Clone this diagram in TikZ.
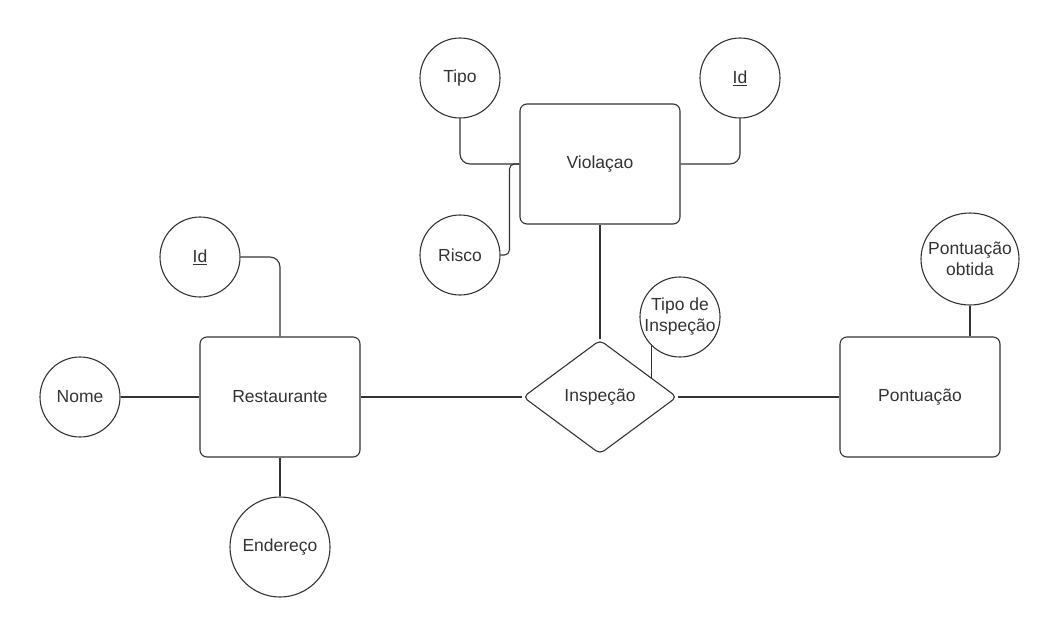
\documentclass[tikz,border=0pt]{standalone}
\usepackage{fontspec}
\setmainfont{Liberation Sans}
\usepackage{xcolor}
\usetikzlibrary{calc,shapes.geometric}
\definecolor{ink}{HTML}{333333}
\newcommand\erfont{\fontsize{17.5}{21}\selectfont}
\tikzset{
  ent/.style={draw=ink, line width=1.1pt, rounded corners=7pt, minimum width=160pt, minimum height=120pt, text=ink, font=\erfont},
  rel/.style={diamond, draw=ink, line width=1.1pt, rounded corners=5pt, aspect=1.35, inner sep=0pt, minimum width=154pt, minimum height=114pt, text=ink, font=\erfont},
  attr/.style={circle, draw=ink, line width=1.1pt, inner sep=0pt, minimum size=80pt, text=ink, font=\erfont},
  lab/.style={text=ink, font=\erfont, align=center},
  link/.style={draw=ink, line width=1.1pt, rounded corners=10pt},
}
\begin{document}
\begin{tikzpicture}[x=1pt,y=-1pt]
  \useasboundingbox (0,0) rectangle (1060,637);
  % entities and relation
  \node[ent] (rest) at (280,397) {Restaurante};
  \node[ent] (viol) at (600,164) {Violaçao};
  \node[ent] (pont) at (920,397) {Pontuação};
  \node[rel] (insp) at (600,397) {Inspeção};
  % attributes
  \node[attr] (idR) at (200,257) {\underline{Id}};
  \node[attr] (nome) at (80,397) {Nome};
  \node[attr,minimum size=100pt] (ender) at (280,547) {Endereço};
  \node[attr] (tipo) at (460,78) {Tipo};
  \node[attr] (idV) at (740,78) {\underline{Id}};
  \node[attr] (risco) at (460,255) {Risco};
  \node[attr,label={[lab]center:Tipo de\\Inspeção}] (tipoI) at (680,317) {};
  \node[attr,ellipse,minimum width=98pt,minimum height=92pt,label={[lab]center:Pontuação\\obtida}] (obt) at (970,259) {};
  % connectors
  \draw[link] (idR.east) -| (rest.north);
  \draw[link] (nome) -- (rest);
  \draw[link] (rest) -- (ender);
  \draw[link] (tipo) |- (viol.west);
  \draw[link] (idV) |- (viol.east);
  \draw[link,rounded corners=5pt] (risco.east) -| ([xshift=-10pt]viol.west) -- (viol.west);
  \draw[link] (viol) -- (insp);
  \draw[link] (rest) -- (insp);
  \draw[link] (insp) -- (pont);
  \draw[link] (obt.south) -- (obt.south |- pont.north);
  \coordinate (ie) at ($(insp.north)!.68!(insp.east)$);
  \draw[link] (tipoI.south west) -- (tipoI.south west |- ie);
\end{tikzpicture}
\end{document}
